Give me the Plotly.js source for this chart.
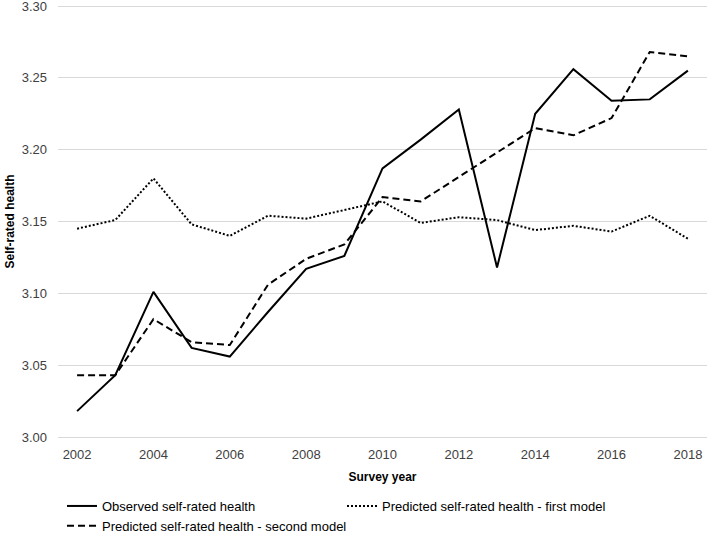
<!DOCTYPE html>
<html>
<head>
<meta charset="utf-8">
<script src="https://cdn.plot.ly/plotly-3.0.1.min.js"></script>
<style>html,body{margin:0;padding:0;background:#fff;}#chart{width:709px;height:535px;}</style>
</head>
<body>
<div id="chart"></div>
<script>
var years = [2002,2003,2004,2005,2006,2007,2008,2009,2010,2011,2012,2013,2014,2015,2016,2017,2018];
var observed = [3.018,3.043,3.101,3.062,3.056,3.087,3.117,3.126,3.187,3.207,3.228,3.118,3.225,3.256,3.234,3.235,3.255];
var predictedFirst = [3.145,3.151,3.180,3.148,3.140,3.154,3.152,3.158,3.164,3.149,3.153,3.151,3.144,3.147,3.143,3.154,3.138];
var predictedSecond = [3.043,3.043,3.082,3.066,3.064,3.106,3.124,3.134,3.167,3.164,3.181,3.198,3.215,3.210,3.222,3.268,3.265];
var xTickVals = [2002,2004,2006,2008,2010,2012,2014,2016,2018];
var yTickVals = [3.00,3.05,3.10,3.15,3.20,3.25,3.30];
var seriesNames = ['Observed self-rated health','Predicted self-rated health - first model','Predicted self-rated health - second model'];

var traces = [
  {x: years, y: observed, name: seriesNames[0], mode: 'lines', line: {color: '#000', width: 2, dash: 'solid'}},
  {x: years, y: predictedFirst, name: seriesNames[1], mode: 'lines', line: {color: '#000', width: 2, dash: '2px,2px'}},
  {x: years, y: predictedSecond, name: seriesNames[2], mode: 'lines', line: {color: '#000', width: 2, dash: '7px,4px'}}
];

var layout = {
  width: 709, height: 535,
  margin: {l: 58, r: 2, t: 4, b: 96},
  paper_bgcolor: '#fff', plot_bgcolor: '#fff',
  font: {family: 'Liberation Sans, Arial, sans-serif', size: 13, color: '#404040'},
  showlegend: true,
  xaxis: {
    range: [2001.5, 2018.5], tickvals: xTickVals, ticktext: xTickVals.map(String),
    showgrid: false, zeroline: false, showline: false, ticks: '',
    ticklabelstandoff: 6,
    tickfont: {size: 13, color: '#404040'},
    title: {text: 'Survey year', font: {size: 12, color: '#000', family: 'Liberation Sans, Arial, sans-serif', weight: 'bold'}, standoff: 11}
  },
  yaxis: {
    range: [2.99861, 3.30139], tickvals: yTickVals, ticktext: yTickVals.map(function(v){return v.toFixed(2);}),
    showgrid: true, gridcolor: '#d9d9d9', gridwidth: 1, zeroline: false, showline: false, ticks: '',
    ticklabelstandoff: 10, ticklabeloverflow: 'allow',
    tickfont: {size: 13, color: '#404040'},
    title: {text: 'Self-rated health', font: {size: 12, color: '#000', family: 'Liberation Sans, Arial, sans-serif', weight: 'bold'}, standoff: 4}
  },
  legend: {
    orientation: 'h', xref: 'container', yref: 'container',
    x: 62/709, y: (535-491)/535, xanchor: 'left', yanchor: 'top',
    entrywidth: 235, entrywidthmode: 'pixels',
    font: {size: 13, color: '#000'}, bgcolor: 'rgba(0,0,0,0)', traceorder: 'normal'
  }
};

Plotly.newPlot('chart', traces, layout, {staticPlot: true, displayModeBar: false});
</script>
</body>
</html>
